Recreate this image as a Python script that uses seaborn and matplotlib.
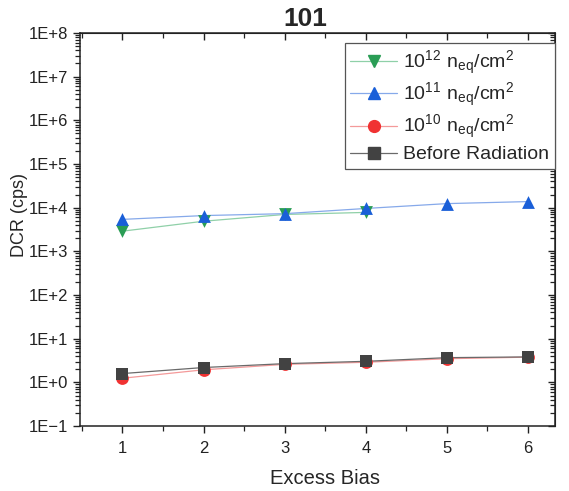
import numpy as np
import pandas as pd
import matplotlib
matplotlib.use("Agg")
import matplotlib.pyplot as plt
import matplotlib.ticker as mticker
import seaborn as sns

# data
bias = [1, 2, 3, 4, 5, 6]
dcr_1e12 = [2900, 4900, 7000, 7800]
dcr_1e11 = [5400, 6600, 7300, 9600, 12400, 13800]
dcr_1e10 = [1.25, 1.95, 2.6, 2.9, 3.5, 3.8]
dcr_before = [1.6, 2.2, 2.7, 3.05, 3.7, 3.85]

labels = [r"$\mathregular{10^{12}\ n_{eq}/cm^2}$",
          r"$\mathregular{10^{11}\ n_{eq}/cm^2}$",
          r"$\mathregular{10^{10}\ n_{eq}/cm^2}$",
          "Before Radiation"]

sns.set_style("ticks")
plt.rcParams['font.family'] = ['Liberation Sans', 'DejaVu Sans']
plt.rcParams['mathtext.fontset'] = 'custom'
plt.rcParams['mathtext.rm'] = 'Liberation Sans'

fig = plt.figure(figsize=(5.69, 4.91), dpi=100)
ax = fig.add_axes([0.141, 0.132, 0.834, 0.801])

series = [
    (bias[:len(dcr_1e12)], dcr_1e12, "v", "#2a9d55", "#8fd0a8", labels[0]),
    (bias, dcr_1e11, "^", "#1a5fd8", "#86a9ea", labels[1]),
    (bias, dcr_1e10, "o", "#f03232", "#f49a9a", labels[2]),
    (bias, dcr_before, "s", "#424242", "#6a6a6a", labels[3]),
]

handles = []
for xs, ys, mk, c, lc, lab in series:
    sns.lineplot(x=xs, y=ys, ax=ax, color=lc, linewidth=0.9, legend=False)
    sns.scatterplot(x=xs, y=ys, ax=ax, marker=mk, color=c, s=85,
                    edgecolor=c, linewidth=0, legend=False, zorder=3)
    h, = ax.plot([], [], color=lc, lw=0.9, marker=mk, markerfacecolor=c,
                 markeredgecolor=c, markersize=8.5)
    handles.append(h)

ax.set_yscale("log")
ax.set_ylim(1e-1, 1e8)
ax.set_xlim(0.48, 6.33)


def fmt(v, pos):
    e = int(round(np.log10(v)))
    return "1E" + ("+" if e >= 0 else "\u2212") + str(abs(e))


def style_y(a):
    a.yaxis.set_major_locator(mticker.LogLocator(base=10, numticks=20))
    a.yaxis.set_minor_locator(mticker.FixedLocator(
        [m * 10.0 ** e for e in range(-1, 8) for m in range(2, 10)]))


def style_x(a):
    a.xaxis.set_major_locator(mticker.FixedLocator(bias))
    a.xaxis.set_minor_locator(mticker.MultipleLocator(0.5))


style_x(ax)
style_y(ax)
ax.yaxis.set_major_formatter(mticker.FuncFormatter(fmt))
ax.yaxis.set_minor_formatter(mticker.NullFormatter())

for s in ax.spines.values():
    s.set_visible(True)
    s.set_color("#222222")
    s.set_linewidth(1.1)

ax.tick_params(axis="both", which="major", direction="out", length=5, width=1,
               labelsize=12, colors="#222222")
ax.tick_params(axis="x", which="major", pad=6)
ax.tick_params(axis="both", which="minor", direction="out", length=3.5, width=0.9,
               colors="#222222")
ax.tick_params(top=False, right=False)

# top and right axes carry inward ticks without labels
top = ax.secondary_xaxis("top")
style_x(top)
top.tick_params(which="major", direction="in", length=5, width=1, labeltop=False, colors="#222222")
top.tick_params(which="minor", direction="in", length=3.5, width=0.9, colors="#222222")
top.set_xticklabels([])
right = ax.secondary_yaxis("right")
style_y(right)
right.tick_params(which="major", direction="in", length=5, width=1, labelright=False, colors="#222222")
right.tick_params(which="minor", direction="in", length=3.5, width=0.9, colors="#222222")
right.yaxis.set_major_formatter(mticker.NullFormatter())
right.yaxis.set_minor_formatter(mticker.NullFormatter())

ax.set_xlabel("Excess Bias", fontsize=14.5, labelpad=9, x=0.515)
ax.set_ylabel("DCR (cps)", fontsize=13)
ax.yaxis.set_label_coords(-0.11, 0.537)
ax.set_title("101", fontsize=19, fontweight="bold", pad=5, x=0.474)

leg = ax.legend(handles, labels, loc="upper right", fontsize=14, frameon=True,
                fancybox=False, edgecolor="#555555", framealpha=1,
                handlelength=2.4, handletextpad=0.3, borderpad=0.3,
                labelspacing=0.22, borderaxespad=0,
                bbox_to_anchor=(1.0, 0.975))
leg.get_frame().set_linewidth(0.9)

fig.savefig("out.png", dpi=100)
